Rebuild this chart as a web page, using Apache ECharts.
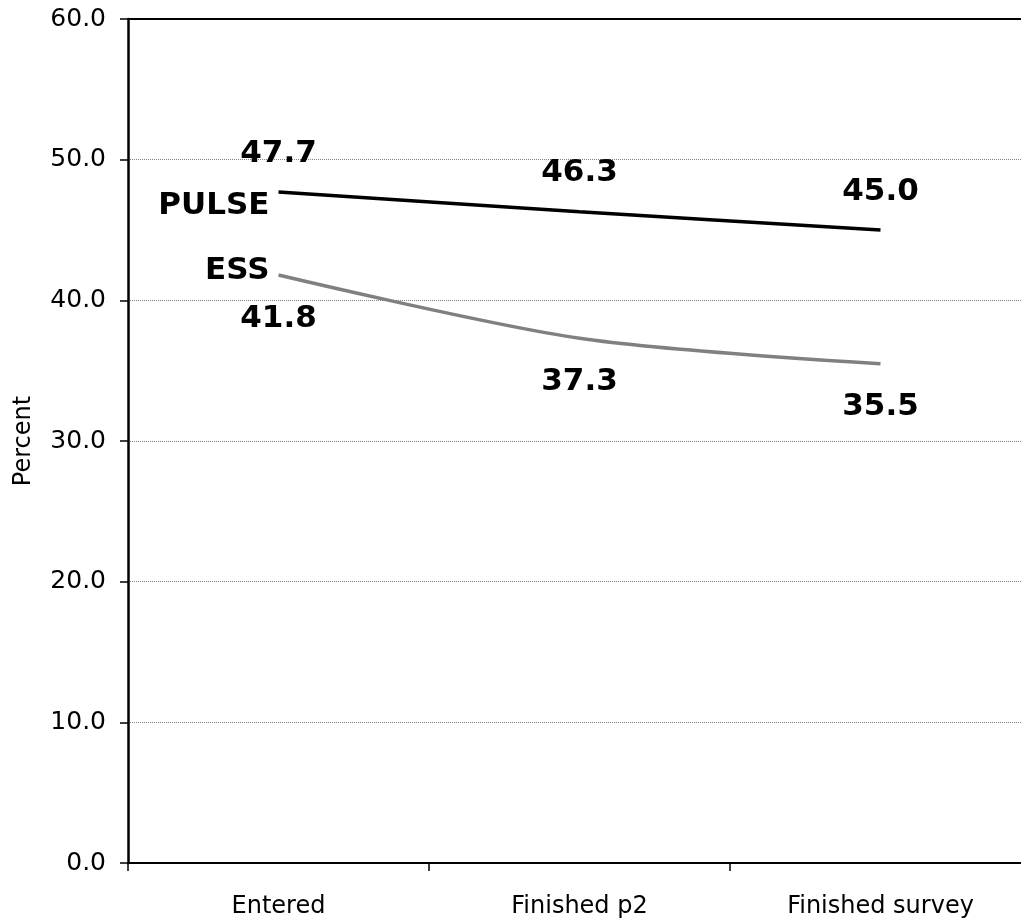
<!DOCTYPE html>
<html>
<head>
<meta charset="utf-8">
<script src="https://cdn.jsdelivr.net/npm/echarts@6/dist/echarts.min.js"></script>
<style>html,body{margin:0;padding:0;background:#fff}#c{width:1021px;height:923px}</style>
</head>
<body>
<div id="c"></div>
<script>
const categories = ['Entered', 'Finished p2', 'Finished survey'];
const pulseValues = [47.7, 46.3, 45.0];
const essValues = [41.8, 37.3, 35.5];
const seriesNames = ['PULSE', 'ESS'];
const yTicks = { min: 0, max: 60, interval: 10 };

const FONT = 'DejaVu Sans, Verdana, sans-serif';
const CLEAR = 'rgba(0,0,0,0)';
const chart = echarts.init(document.getElementById('c'), null, { renderer: 'canvas' });

function valueLabel(pos, dist) {
  return {
    show: true, position: pos, distance: dist,
    formatter: p => Number(p.value).toFixed(1),
    fontFamily: FONT, fontWeight: 'bold', fontSize: 31, color: '#000'
  };
}
function nameMark(name, cat, val, dy) {
  return {
    symbol: 'circle', symbolSize: 2,
    itemStyle: { color: CLEAR, borderWidth: 0 },
    label: {
      show: true, position: 'left', distance: 8, offset: [0, dy],
      formatter: name, fontFamily: FONT, fontWeight: 'bold', fontSize: 31, color: '#000'
    },
    data: [{ coord: [cat, val] }]
  };
}

chart.setOption({
  animation: false,
  backgroundColor: '#fff',
  grid: { left: 128, top: 19, width: 903, height: 844, containLabel: false, outerBoundsMode: 'none' },
  xAxis: [{
    type: 'category', data: categories, boundaryGap: true, position: 'bottom',
    axisLine: { lineStyle: { color: '#000', width: 2 } },
    axisTick: { show: true, length: 8, lineStyle: { color: '#000', width: 1.5 } },
    axisLabel: { margin: 32, fontFamily: FONT, fontSize: 24, color: '#000' },
    splitLine: { show: false }
  }, {
    type: 'category', data: categories, position: 'top',
    axisLine: { show: true, lineStyle: { color: '#000', width: 2 } },
    axisTick: { show: false }, axisLabel: { show: false }
  }],
  yAxis: {
    type: 'value', min: yTicks.min, max: yTicks.max, interval: yTicks.interval,
    name: 'Percent', nameLocation: 'middle', nameGap: 92, nameRotate: 90,
    nameTextStyle: { fontFamily: FONT, fontSize: 24, color: '#000' },
    axisLine: { show: true, lineStyle: { color: '#000', width: 2.5 } },
    axisTick: { show: true, length: 8, inside: false, lineStyle: { color: '#000', width: 1.5 } },
    axisLabel: { margin: 22, formatter: v => v.toFixed(1), fontFamily: FONT, fontSize: 25, color: '#000' },
    splitLine: { show: true, lineStyle: { color: '#808080', type: 'dotted', width: 1 } }
  },
  series: [{
    name: seriesNames[0], type: 'line', data: pulseValues, smooth: 0.3,
    symbol: 'circle', symbolSize: 2, showSymbol: true,
    itemStyle: { color: CLEAR, borderWidth: 0 },
    lineStyle: { color: '#000', width: 3.5 },
    label: valueLabel('top', 22),
    markPoint: nameMark(seriesNames[0], categories[0], pulseValues[0], 14)
  }, {
    name: seriesNames[1], type: 'line', data: essValues, smooth: 0.3,
    symbol: 'circle', symbolSize: 2, showSymbol: true,
    itemStyle: { color: CLEAR, borderWidth: 0 },
    lineStyle: { color: '#808080', width: 3.5 },
    label: valueLabel('bottom', 27),
    markPoint: nameMark(seriesNames[1], categories[0], essValues[0], -4)
  }]
});
</script>
</body>
</html>
